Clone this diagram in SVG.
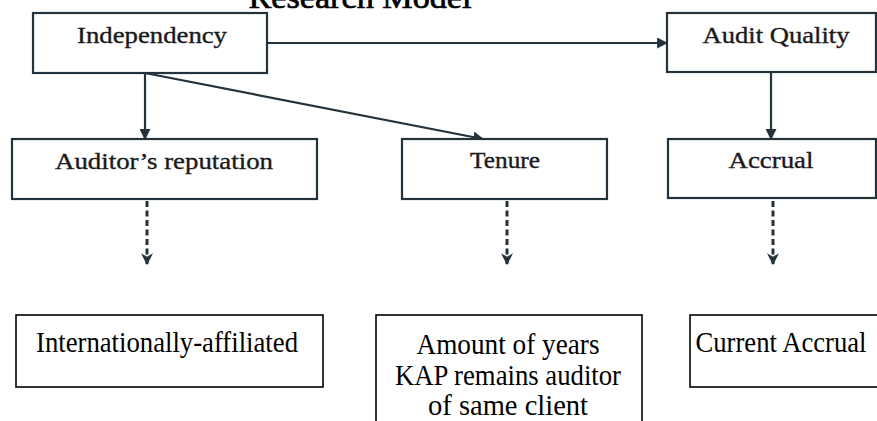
<svg xmlns="http://www.w3.org/2000/svg" width="877" height="421" viewBox="0 0 877 421" font-family="Liberation Serif, Times New Roman, serif" text-anchor="middle">
  <defs>
    <style>
      .scan { fill: #ffffff; stroke: #24323b; stroke-width: 2.2; }
      .clean { fill: #ffffff; stroke: #000000; stroke-width: 1.6; }
      .top { font-size: 23px; fill: #1a1a1a; stroke: #1a1a1a; stroke-width: 0.35; }
      .low { font-size: 28.5px; fill: #000000; }
      .conn { stroke: #24323b; stroke-width: 2.2; fill: none; }
      .dash { stroke: #24323b; stroke-width: 3; fill: none; stroke-dasharray: 6 3.5; }
    </style>
    <marker id="ah" viewBox="0 0 10 10" refX="9" refY="5" markerWidth="5" markerHeight="5" orient="auto" markerUnits="strokeWidth">
      <path d="M0,0 L10,5 L0,10 z" fill="#24323b"/>
    </marker>
    <marker id="ahd" viewBox="0 0 10 10" refX="9" refY="5" markerWidth="4" markerHeight="4" orient="auto" markerUnits="strokeWidth">
      <path d="M0,0 L10,5 L0,10 L3,5 z" fill="#24323b"/>
    </marker>
  </defs>
  <rect x="0" y="0" width="877" height="421" fill="#ffffff"/>

  <text x="360" y="8" font-size="32" fill="#000000" stroke="#000000" stroke-width="0.7" textLength="223" lengthAdjust="spacingAndGlyphs">Research Model</text>

  <g id="connectors">
    <line class="conn" x1="267" y1="43" x2="667" y2="43" marker-end="url(#ah)"/>
    <line class="conn" x1="145" y1="73" x2="145" y2="139" marker-end="url(#ah)"/>
    <line class="conn" x1="145" y1="73" x2="483" y2="139" marker-end="url(#ah)"/>
    <line class="conn" x1="771" y1="72" x2="771" y2="139" marker-end="url(#ah)"/>
    <line class="dash" x1="147" y1="201" x2="147" y2="264" marker-end="url(#ahd)"/>
    <line class="dash" x1="507" y1="201" x2="507" y2="264" marker-end="url(#ahd)"/>
    <line class="dash" x1="773" y1="201" x2="773" y2="264" marker-end="url(#ahd)"/>
  </g>

  <g id="independency">
    <rect class="scan" x="33" y="13" width="234" height="60"/>
    <text class="top" x="152" y="43" textLength="150" lengthAdjust="spacingAndGlyphs">Independency</text>
  </g>
  <g id="audit-quality">
    <rect class="scan" x="667" y="13" width="209" height="59"/>
    <text class="top" x="776" y="43" textLength="147" lengthAdjust="spacingAndGlyphs">Audit Quality</text>
  </g>
  <g id="auditors-reputation">
    <rect class="scan" x="12" y="139" width="305" height="60"/>
    <text class="top" x="164" y="169" textLength="218" lengthAdjust="spacingAndGlyphs">Auditor’s reputation</text>
  </g>
  <g id="tenure">
    <rect class="scan" x="402" y="139" width="205" height="60"/>
    <text class="top" x="505" y="168" textLength="70" lengthAdjust="spacingAndGlyphs">Tenure</text>
  </g>
  <g id="accrual">
    <rect class="scan" x="668" y="139" width="208" height="59"/>
    <text class="top" x="771" y="168" textLength="85" lengthAdjust="spacingAndGlyphs">Accrual</text>
  </g>

  <g id="internationally-affiliated">
    <rect class="clean" x="16" y="315" width="307" height="72"/>
    <text class="low" x="167" y="352" textLength="262" lengthAdjust="spacingAndGlyphs">Internationally-affiliated</text>
  </g>
  <g id="amount-of-years">
    <rect class="clean" x="376" y="315" width="266" height="120"/>
    <text class="low" x="508" y="354" textLength="183" lengthAdjust="spacingAndGlyphs">Amount of years</text>
    <text class="low" x="508" y="385" textLength="226" lengthAdjust="spacingAndGlyphs">KAP remains auditor</text>
    <text class="low" x="508" y="415" textLength="160" lengthAdjust="spacingAndGlyphs">of same client</text>
  </g>
  <g id="current-accrual">
    <rect class="clean" x="690" y="315" width="190" height="72"/>
    <text class="low" x="781" y="352" textLength="171" lengthAdjust="spacingAndGlyphs">Current Accrual</text>
  </g>
</svg>
